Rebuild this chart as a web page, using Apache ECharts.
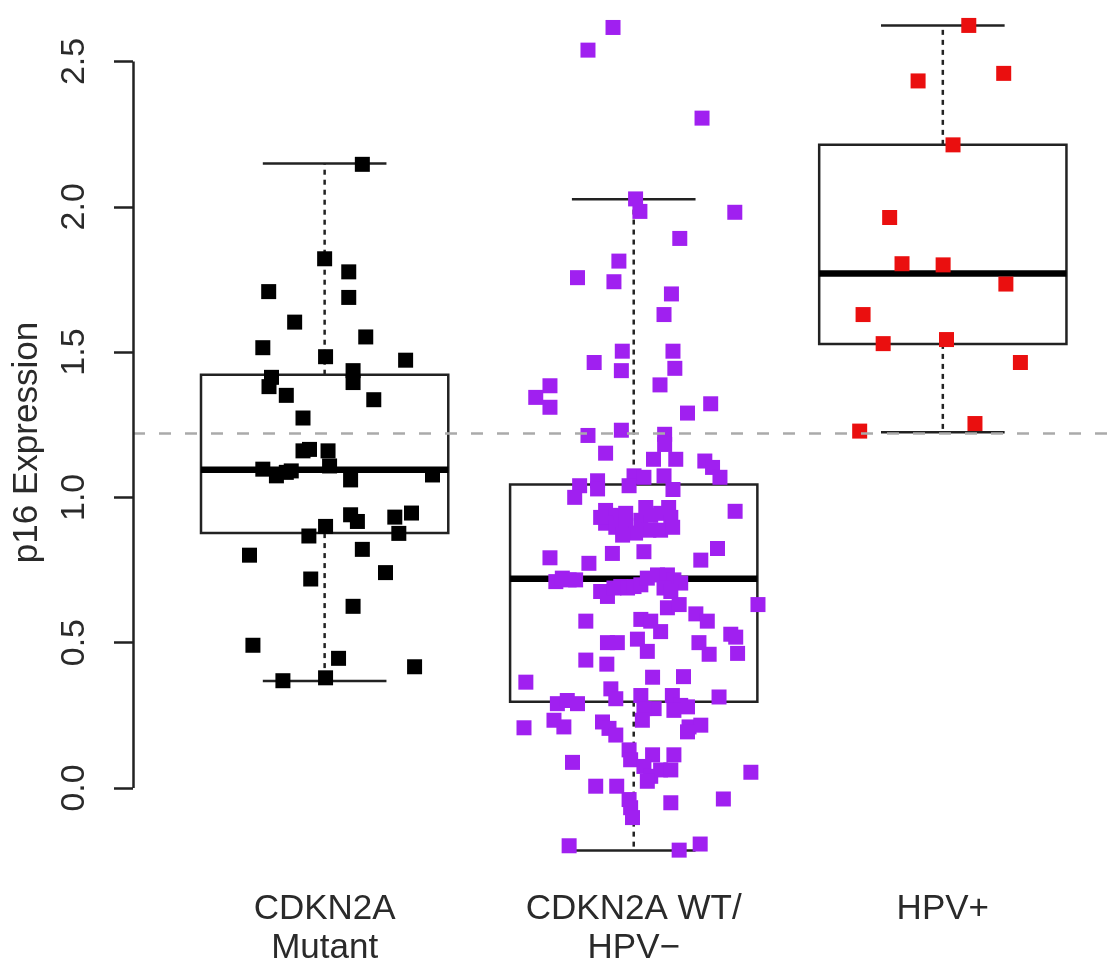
<!DOCTYPE html>
<html>
<head>
<meta charset="utf-8">
<title>p16 Expression</title>
<script src="https://cdn.jsdelivr.net/npm/echarts@6/dist/echarts.min.js"></script>
<style>
    html, body { margin: 0; padding: 0; background: #fff; }
    #echart1 { width: 1119px; height: 968px; }
</style>
</head>
<body>
<div id="echart1"></div>
<script>
// 分组名称
var categories = ['CDKN2A\nMutant', 'CDKN2A WT/\nHPV\u2212', 'HPV+'];
var yTicks = [0, 0.5, 1.0, 1.5, 2.0, 2.5];
var cutoff = 1.224;

// [下须, Q1, 中位数, Q3, 上须]
var boxStats = [
    [0.368, 0.877, 1.095, 1.422, 2.149],
    [-0.215, 0.297, 0.720, 1.044, 2.026],
    [1.224, 1.528, 1.770, 2.213, 2.624]
];

// [抖动后的x, 值]
var mutantPts = [
    [1.122, 2.146], [1.000, 1.821], [1.078, 1.776], [0.819, 1.708], [1.078, 1.688], [0.903, 1.603],
    [1.133, 1.552], [0.800, 1.515], [1.003, 1.484], [1.262, 1.472], [1.092, 1.436], [0.828, 1.413],
    [0.820, 1.381], [1.092, 1.395], [0.876, 1.351], [1.159, 1.336], [0.930, 1.273], [0.930, 1.160],
    [0.951, 1.165], [1.011, 1.160], [0.800, 1.097], [0.844, 1.074], [0.876, 1.086], [0.892, 1.091],
    [1.016, 1.108], [1.084, 1.060], [1.349, 1.077], [1.084, 0.940], [1.106, 0.917], [1.227, 0.932],
    [1.281, 0.946], [1.003, 0.900], [0.949, 0.867], [1.240, 0.876], [0.757, 0.801], [1.122, 0.821],
    [0.955, 0.719], [1.197, 0.741], [1.092, 0.625], [0.768, 0.491], [1.045, 0.446], [1.291, 0.417],
    [0.865, 0.369], [1.003, 0.379]
];

var wtPts = [
    [1.933, 2.617], [1.852, 2.539], [2.221, 2.305], [2.006, 2.027], [2.020, 1.984], [2.327, 1.981],
    [2.149, 1.891], [1.952, 1.813], [1.818, 1.756], [1.936, 1.742], [2.122, 1.700],
    [2.098, 1.629], [1.963, 1.503], [2.127, 1.503], [1.872, 1.464], [1.960, 1.436], [2.133, 1.444],
    [2.085, 1.387], [1.729, 1.384], [1.683, 1.344], [1.729, 1.310], [2.249, 1.322], [2.174, 1.290],
    [1.960, 1.231], [1.852, 1.213], [2.100, 1.217], [2.100, 1.182], [1.909, 1.152], [2.064, 1.131],
    [2.136, 1.131], [2.230, 1.125], [2.255, 1.103], [2.279, 1.069], [2.001, 1.074], [2.033, 1.069],
    [2.098, 1.074], [1.883, 1.057], [1.883, 1.029], [1.825, 1.040], [1.809, 1.000], [1.985, 1.040],
    [2.127, 1.027], [2.328, 0.952],
    [1.909, 0.955], [1.942, 0.938], [1.974, 0.945], [1.909, 0.911], [1.942, 0.897], [1.974, 0.904],
    [2.023, 0.921], [2.055, 0.938], [2.087, 0.945], [2.120, 0.931], [2.049, 0.887], [2.087, 0.887],
    [2.126, 0.897], [2.006, 0.877], [1.964, 0.870], [1.893, 0.931], [2.113, 0.965], [2.039, 0.965],
    [2.271, 0.824], [1.729, 0.792], [1.855, 0.773], [1.931, 0.807], [2.033, 0.813], [2.217, 0.784],
    [1.748, 0.710], [1.769, 0.722], [1.791, 0.716], [1.812, 0.716], [1.893, 0.676], [1.915, 0.659],
    [1.936, 0.688], [1.958, 0.693], [1.980, 0.688], [2.001, 0.693], [2.023, 0.699], [2.044, 0.722],
    [2.077, 0.733], [2.109, 0.733], [2.130, 0.716], [2.152, 0.705], [2.098, 0.688], [2.120, 0.676],
    [2.402, 0.631], [2.109, 0.620], [2.147, 0.631], [1.845, 0.574], [2.023, 0.580], [2.055, 0.574],
    [2.201, 0.599], [2.238, 0.574], [2.087, 0.538], [2.314, 0.529], [2.330, 0.519], [1.915, 0.500],
    [1.947, 0.500], [2.012, 0.512], [2.044, 0.470], [2.211, 0.500], [2.244, 0.460], [2.336, 0.463],
    [1.845, 0.440], [1.913, 0.426], [2.061, 0.381], [2.161, 0.383], [1.651, 0.364], [1.926, 0.341],
    [1.942, 0.307], [2.023, 0.318], [2.125, 0.318], [2.152, 0.284], [2.174, 0.279], [2.130, 0.267],
    [2.276, 0.313], [1.753, 0.290], [1.785, 0.301], [1.818, 0.290], [2.066, 0.273], [2.033, 0.273],
    [2.028, 0.233], [1.645, 0.207], [1.742, 0.233], [1.774, 0.210], [1.899, 0.227], [1.920, 0.205],
    [1.942, 0.182], [2.179, 0.210], [2.217, 0.216], [2.174, 0.193], [1.985, 0.131], [1.990, 0.097],
    [1.802, 0.088], [2.061, 0.114], [2.130, 0.114], [2.033, 0.074], [2.055, 0.040], [2.087, 0.062],
    [2.120, 0.062], [2.044, 0.023], [2.379, 0.054], [1.877, 0.006], [1.945, 0.006], [1.985, -0.040],
    [1.990, -0.068], [2.120, -0.051], [2.290, -0.038], [1.996, -0.102], [1.791, -0.199], [2.147, -0.214],
    [2.215, -0.193]
];

var hpvPts = [
    [3.084, 2.624], [3.197, 2.459], [2.920, 2.433], [3.033, 2.213], [2.828, 1.963], [2.868, 1.804],
    [3.001, 1.800], [3.204, 1.734], [2.742, 1.629], [2.807, 1.529], [3.012, 1.543], [3.251, 1.464],
    [2.731, 1.228], [3.104, 1.254]
];

var groupColors = ['#000000', '#a020f0', '#ea0f0f'];

window.onload = function () {
    echarts_1();

    function echarts_1() {
        var myChart = echarts.init(document.getElementById('echart1'));
        var xMin = 0.38, xMax = 3.57;
        var font = 'Liberation Sans, Arial, sans-serif';

        var boxData = boxStats.map(function (s, i) {
            return [i + 1].concat(s);
        });

        function renderBox(params, api) {
            var x = api.value(0);
            var lo = api.coord([x, api.value(1)]);
            var q1 = api.coord([x, api.value(2)]);
            var med = api.coord([x, api.value(3)]);
            var q3 = api.coord([x, api.value(4)]);
            var hi = api.coord([x, api.value(5)]);
            var half = api.size([0.4, 0])[0];
            var cap = half / 2;
            var cx = med[0];
            var solid = { stroke: '#222', lineWidth: 2.5, fill: null };
            var dashed = { stroke: '#222', lineWidth: 2.5, lineDash: [5, 5] };
            return {
                type: 'group',
                children: [
                    { type: 'line', shape: { x1: cx, y1: q3[1], x2: cx, y2: hi[1] }, style: dashed },
                    { type: 'line', shape: { x1: cx, y1: q1[1], x2: cx, y2: lo[1] }, style: dashed },
                    { type: 'line', shape: { x1: cx - cap, y1: hi[1], x2: cx + cap, y2: hi[1] }, style: solid },
                    { type: 'line', shape: { x1: cx - cap, y1: lo[1], x2: cx + cap, y2: lo[1] }, style: solid },
                    { type: 'rect', shape: { x: cx - half, y: q3[1], width: half * 2, height: q1[1] - q3[1] }, style: solid },
                    { type: 'line', shape: { x1: cx - half, y1: med[1], x2: cx + half, y2: med[1] }, style: { stroke: '#000', lineWidth: 6.5 } }
                ]
            };
        }

        option = {
            backgroundColor: '#fff',
            animation: false,
            grid: {
                left: 133,
                right: 0,
                top: 0,
                bottom: 75
            },
            xAxis: {
                type: 'value',
                min: xMin,
                max: xMax,
                axisLine: { show: false },
                axisTick: { show: false },
                splitLine: { show: false },
                axisLabel: {
                    customValues: [1, 2, 3],
                    formatter: function (v) { return categories[Math.round(v) - 1]; },
                    fontFamily: font,
                    fontSize: 35,
                    lineHeight: 39,
                    color: '#2a2a2a',
                    margin: 5,
                    verticalAlign: 'top'
                }
            },
            yAxis: {
                type: 'value',
                min: -0.334,
                max: 2.7115,
                name: 'p16 Expression',
                nameLocation: 'middle',
                nameRotate: 90,
                nameGap: 88,
                nameTextStyle: { fontFamily: font, fontSize: 35, color: '#2a2a2a' },
                axisLine: { show: false },
                splitLine: { show: false },
                axisTick: {
                    customValues: yTicks,
                    length: 19,
                    lineStyle: { color: '#222', width: 2.5 }
                },
                axisLabel: {
                    customValues: yTicks,
                    rotate: 90,
                    margin: 41,
                    fontFamily: font,
                    fontSize: 34,
                    color: '#2a2a2a',
                    formatter: function (v) { return v.toFixed(1); }
                }
            },
            series: [{
                type: 'custom',
                renderItem: renderBox,
                data: boxData,
                encode: { x: 0, y: [1, 2, 3, 4, 5] },
                z: 2,
                silent: true
            }, {
                type: 'scatter',
                symbol: 'rect',
                symbolSize: 15,
                itemStyle: { color: groupColors[0], opacity: 1 },
                data: mutantPts,
                z: 3
            }, {
                type: 'scatter',
                symbol: 'rect',
                symbolSize: 15,
                itemStyle: { color: groupColors[1], opacity: 1 },
                data: wtPts,
                z: 3
            }, {
                type: 'scatter',
                symbol: 'rect',
                symbolSize: 15,
                itemStyle: { color: groupColors[2], opacity: 1 },
                data: hpvPts,
                z: 3
            }, {
                // 阈值虚线 + y轴线(只画0~2.5)
                type: 'line',
                data: [],
                z: 5,
                markLine: {
                    silent: true,
                    symbol: 'none',
                    label: { show: false },
                    animation: false,
                    data: [
                        { yAxis: cutoff, lineStyle: { color: '#aaa', width: 2.5, type: [12, 14] } },
                        [
                            { coord: [xMin, yTicks[0]], lineStyle: { color: '#222', width: 2.5, type: 'solid' } },
                            { coord: [xMin, yTicks[yTicks.length - 1]] }
                        ]
                    ]
                }
            }]
        };

        myChart.setOption(option);
        window.addEventListener("resize", function () {
            myChart.resize();
        });
    }
};
</script>
</body>
</html>
